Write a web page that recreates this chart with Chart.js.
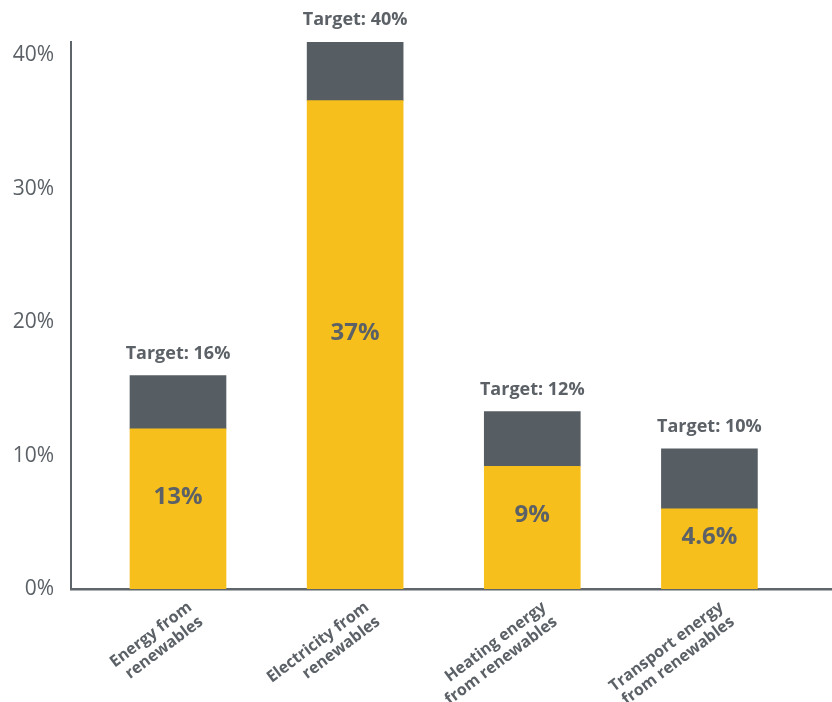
<!DOCTYPE html>
<html>
<head>
<meta charset="utf-8">
<script src="https://cdn.jsdelivr.net/npm/chart.js@4"></script>
<style>
  html, body { margin: 0; padding: 0; background: #fff; }
  #wrap { width: 832px; height: 702px; position: relative; }
</style>
</head>
<body>
<div id="wrap"><canvas id="renewables"></canvas></div>
<script>
const categories = [
  ['Energy from', 'renewables'],
  ['Electricity from', 'renewables'],
  ['Heating energy', 'from renewables'],
  ['Transport energy', 'from renewables']
];
// yellow part (current share) and grey part (gap up to the target), in %
const shareValues = [12.0, 36.6, 9.2, 6.0];
const gapValues = [4.0, 4.4, 4.1, 4.5];
const shareLabels = ['13%', '37%', '9%', '4.6%'];
const targetLabels = ['Target: 16%', 'Target: 40%', 'Target: 12%', 'Target: 10%'];
const yTicks = [0, 10, 20, 30, 40];

const grey = '#5b6166';

// writes the value inside the yellow part and the target above the bar
const barText = {
  id: 'barText',
  afterDatasetsDraw(chart) {
    const c = chart.ctx;
    const share = chart.getDatasetMeta(0).data;
    const gap = chart.getDatasetMeta(1).data;
    c.save();
    c.fillStyle = grey;
    c.textAlign = 'center';
    c.textBaseline = 'middle';
    share.forEach((bar, i) => {
      c.font = 'bold 24px "Open Sans"';
      c.fillText(shareLabels[i], bar.x, (bar.y + bar.base) / 2 - 12);
      c.font = 'bold 18px "Open Sans"';
      c.fillText(targetLabels[i], gap[i].x, gap[i].y - 22);
    });
    c.restore();
  }
};

new Chart(document.getElementById('renewables'), {
  type: 'bar',
  data: {
    datasets: [
      {
        label: 'Share',
        data: shareValues.map((v, i) => ({ x: i, y: v })),
        backgroundColor: '#f6bf1c',
        barThickness: 96
      },
      {
        label: 'Gap to target',
        data: gapValues.map((v, i) => ({ x: i, y: v })),
        backgroundColor: '#575e63',
        barThickness: 96
      }
    ]
  },
  options: {
    responsive: true,
    maintainAspectRatio: false,
    animation: false,
    layout: { padding: { top: 42, left: 0, right: 0, bottom: 0 } },
    plugins: {
      legend: { display: false },
      tooltip: { enabled: false }
    },
    scales: {
      x: {
        type: 'linear',
        stacked: true,
        offset: false,
        min: -0.604,
        max: 3.692,
        grid: { display: false, drawTicks: false },
        border: { display: true, color: '#5f666b', width: 2.5 },
        afterBuildTicks: (scale) => {
          scale.ticks = categories.map((_, i) => ({ value: i }));
        },
        afterFit: (scale) => { scale.height = 113; },
        ticks: {
          minRotation: 37,
          maxRotation: 37,
          padding: 9,
          labelOffset: 12,
          color: grey,
          font: { family: 'Open Sans', size: 16, weight: 'bold', lineHeight: 1.15 },
          callback: (value) => categories[value] || ''
        }
      },
      y: {
        stacked: true,
        min: 0,
        max: 41,
        grid: { display: false, drawTicks: false },
        border: { display: true, color: '#5f666b', width: 2 },
        afterBuildTicks: (scale) => {
          scale.ticks = yTicks.map(v => ({ value: v }));
        },
        afterFit: (scale) => { scale.width = 71; },
        ticks: {
          padding: 17,
          color: grey,
          font: { family: 'Open Sans', size: 21 },
          callback: (value) => value + '%'
        }
      }
    }
  },
  plugins: [barText]
});
</script>
</body>
</html>
